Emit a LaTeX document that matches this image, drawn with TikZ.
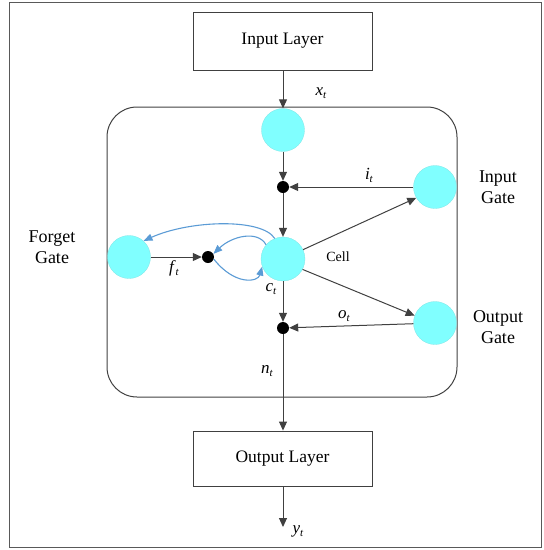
\documentclass[tikz,border=0pt]{standalone}
\usepackage{fontspec}
\setmainfont{Liberation Serif}
\usetikzlibrary{arrows.meta}
\definecolor{lineblue}{RGB}{91,155,213}
\definecolor{gatecyan}{RGB}{128,255,255}
\newcommand{\vsub}[2]{\textit{#1}\raisebox{-3pt}{\fontsize{11}{11}\selectfont\textit{#2}}}
\begin{document}
\begin{tikzpicture}[x=1pt,y=-1pt,
  layerbox/.style={draw=black!75,line width=0.9pt,fill=white,minimum width=179pt,inner sep=0pt,font=\fontsize{17.5}{20}\selectfont},
  gate/.style={circle,fill=gatecyan,draw=gatecyan!80!gray,line width=0.3pt,minimum size=43pt,inner sep=0pt},
  cellnode/.style={circle,fill=gatecyan,draw=gatecyan!80!gray,line width=0.3pt,minimum size=44pt,inner sep=0pt},
  dot/.style={circle,fill=black,minimum size=12pt,inner sep=0pt},
  conn/.style={draw=black!75,line width=1pt,-{Triangle[length=9pt,width=8pt]}},
  bconn/.style={draw=lineblue,line width=1.1pt,-{Triangle[length=9pt,width=7pt]}},
  sublab/.style={font=\fontsize{17}{19}\selectfont},
  gatelab/.style={align=center,font=\fontsize{18}{21}\selectfont},
]
\useasboundingbox (0,0) rectangle (544,550);
% outer frame
\draw[black!65,line width=1pt] (9,2) rectangle (541,547);
% memory block
\draw[black!75,line width=1pt,rounded corners=30pt] (107,107) rectangle (457,397);

\node[layerbox,minimum height=58pt] (inl) at (282.5,41) {Input Layer};
\node[layerbox,minimum height=55pt] (outl) at (282.5,458.5) {Output Layer};

\node[gate] (c1) at (283,130) {};
\node[dot] (d1) at (283,187) {};
\node[cellnode] (cell) at (283,259) {};
\node[gate] (fg) at (129,257) {};
\node[dot] (fd) at (208,257) {};
\node[gate] (ig) at (435,187) {};
\node[gate] (og) at (435,323) {};
\node[dot] (od) at (283,328) {};
\coordinate (yend) at (283,527);

\node[gatelab] (fgl) at (52,247) {Forget\\Gate};
\node[gatelab] (igl) at (498,187) {Input\\Gate};
\node[gatelab] (ogl) at (498,327) {Output\\Gate};

\draw[conn] (inl.south -| c1) -- (c1.north);
\draw[conn] (c1) -- (d1);
\draw[conn] (d1) -- (cell);
\draw[conn] (ig) -- (d1);
\draw[conn] (cell.25) -- (ig.210);
\draw[conn] (cell.-28) -- (og.160);
\draw[conn] (og) -- (od);
\draw[conn] (cell) -- (od);
\draw[conn] (od) -- (outl.north -| od);
\draw[conn] (outl.south -| od) -- (yend);
\draw[conn] (fg) -- (fd);

\draw[bconn] (cell.112) .. controls (262,218) and (190,220) .. (fg.48);
\draw[bconn] (fd.-20) .. controls (235,286) and (258,282) .. (cell.200);
\draw[bconn] (cell.140) .. controls (258,230) and (232,236) .. (fd.30);

\node[sublab] (xl) at (321,93) {\vsub{x}{t}};
\node[sublab] (il) at (369,175) {\vsub{i}{t}};
\node[font=\fontsize{14}{16}\selectfont] (celll) at (338,257) {Cell};
\node[sublab] (ol) at (344,316) {\vsub{o}{t}};
\node[sublab] (fl) at (174,268) {\vsub{f}{t}};
\node[sublab] (cl) at (271,289) {\vsub{c}{t}};
\node[sublab] (nl) at (267,371) {\vsub{n}{t}};
\node[sublab] (yl) at (298,531) {\vsub{y}{t}};
\end{tikzpicture}
\end{document}
